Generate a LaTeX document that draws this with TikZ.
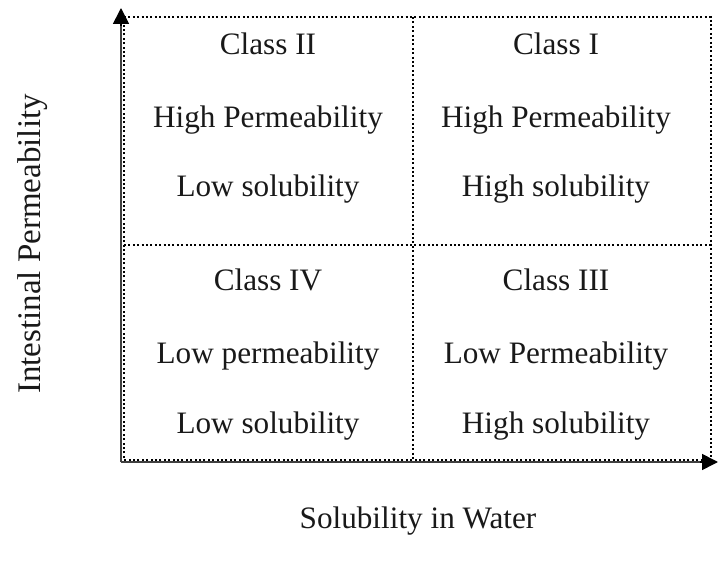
\documentclass[tikz,border=0pt]{standalone}
\usepackage{fontspec}
\setmainfont{Liberation Serif}
\usetikzlibrary{arrows.meta}
\begin{document}
\begin{tikzpicture}[x=1pt,y=-1pt,
  dotline/.style={line width=2pt,dash pattern=on 2pt off 2.4pt},
  lbl/.style={font=\fontsize{31.2}{36}\selectfont,inner sep=0pt,anchor=base,text=black!90}]
\useasboundingbox (0,0) rectangle (718,561);
% coordinates
\coordinate (o) at (121,462);
\coordinate (ytip) at (121,8);
\coordinate (xtip) at (718,462);
\coordinate (tl) at (124,17);
\coordinate (tr) at (711,17);
\coordinate (br) at (711,460);
\coordinate (bl) at (124,460);
\coordinate (mt) at (413,17);
\coordinate (mb) at (413,460);
\coordinate (ml) at (124,245);
\coordinate (mr) at (711,245);
% box
\draw[dotline] (tl) -- (tr) -- (br) -- (bl) -- cycle;
\draw[dotline] (mt) -- (mb);
\draw[dotline] (ml) -- (mr);
% axes
\draw[black!75,line width=1.6pt] (o) -- (121,22);
\draw[black!75,line width=1.6pt] (o) -- (705,462);
\draw[line width=1.6pt,-{Triangle[length=16pt,width=16pt]}] (121,26) -- (ytip);
\draw[line width=1.6pt,-{Triangle[length=16pt,width=16pt]}] (700,462) -- (xtip);
% texts
\node[lbl] (c2) at (268,55) {Class II};
\node[lbl] (c2a) at (268,128) {High Permeability};
\node[lbl] (c2b) at (268,197) {Low solubility};
\node[lbl] (c1) at (556,55) {Class I};
\node[lbl] (c1a) at (556,128) {High Permeability};
\node[lbl] (c1b) at (556,197) {High solubility};
\node[lbl] (c4) at (268,291) {Class IV};
\node[lbl] (c4a) at (268,364) {Low permeability};
\node[lbl] (c4b) at (268,433) {Low solubility};
\node[lbl] (c3) at (556,291) {Class III};
\node[lbl] (c3a) at (556,364) {Low Permeability};
\node[lbl] (c3b) at (556,433) {High solubility};
\node[lbl] (xl) at (418,528) {Solubility in Water};
\node[lbl,font=\fontsize{33}{38}\selectfont,rotate=90] (yl) at (40,244) {Intestinal Permeability};
\end{tikzpicture}
\end{document}
